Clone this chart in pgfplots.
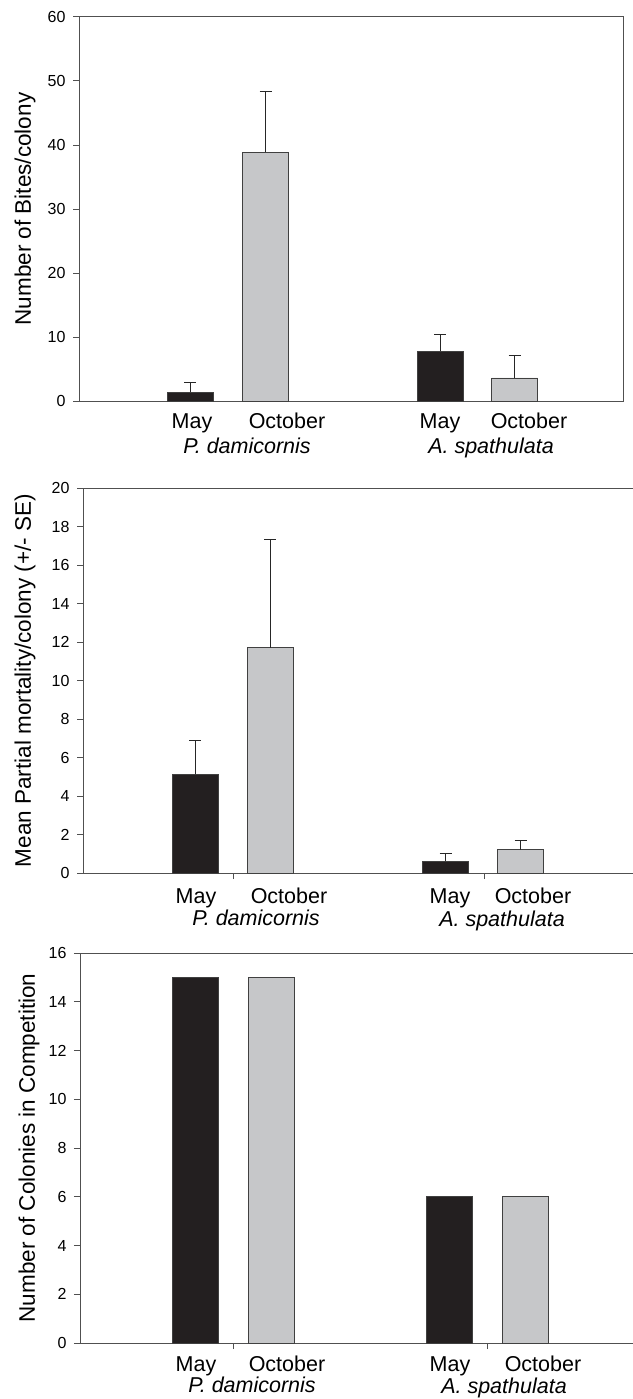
\documentclass[border=0pt]{standalone}
\usepackage{fontspec}
\setmainfont{Liberation Sans}
\usepackage{pgfplots}
\pgfplotsset{compat=1.18}

\definecolor{barblack}{HTML}{231F20}
\definecolor{bargray}{HTML}{C6C7C9}
\definecolor{axgray}{HTML}{505050}
\definecolor{edgegray}{HTML}{404040}

\pgfplotsset{
  myaxis/.style={
    scale only axis, anchor=north west, clip=false,
    ymin=0,
    axis line style={axgray, line width=1pt},
    every tick/.style={axgray, line width=1pt},
    major tick length=6pt, tick align=outside,
    ytick pos=left, xtick pos=bottom,
    /pgf/number format/assume math mode=true,
    yticklabel style={font=\fontsize{16}{19}\selectfont, xshift=-4pt},
    ybar, bar shift=0pt, bar width=46,
    error bars/y dir=plus, error bars/y explicit,
    error bars/error bar style={black!85, line width=1pt},
    error bars/error mark options={rotate=90, mark size=6pt, black!85, line width=1pt},
  },
  maybar/.style={fill=barblack, draw=edgegray, line width=0.8pt},
  octbar/.style={fill=bargray, draw=edgegray, line width=0.8pt},
}
\tikzset{
  lab/.style={font=\fontsize{21.5}{25}\selectfont, anchor=base},
  sp/.style={font=\fontsize{21.5}{25}\selectfont\itshape, anchor=base},
  yl/.style={font=\fontsize{22.5}{27}\selectfont, rotate=90, anchor=center},
}

\begin{document}
\begin{tikzpicture}
\useasboundingbox (0,0) rectangle (632pt,-1399pt);

% Panel 1
\begin{axis}[myaxis, at={(79pt,-17pt)}, width=544pt, height=384pt,
  xmin=0, xmax=544, ymax=60, ytick={0,10,...,60}, xtick=\empty]
\addplot[maybar] coordinates {(111,1.4) +- (0,1.5) (361,7.8) +- (0,2.65)};
\addplot[octbar] coordinates {(186.5,38.9) +- (0,9.4) (435.5,3.6) +- (0,3.45)};
\node[yl] at ([xshift=-54pt]rel axis cs:0,0.5) {Number of Bites/colony};
\node[lab] at ([yshift=-27pt]axis cs:113,0) {May};
\node[lab] at ([yshift=-27pt]axis cs:208,0) {October};
\node[sp] at ([yshift=-52pt]axis cs:168,0) {P. damicornis};
\node[lab] at ([yshift=-27pt]axis cs:361,0) {May};
\node[lab] at ([yshift=-27pt]axis cs:450,0) {October};
\node[sp] at ([yshift=-52pt]axis cs:412,0) {A. spathulata};
\end{axis}

% Panel 2
\begin{axis}[myaxis, at={(83pt,-488pt)}, width=551pt, height=385pt,
  xmin=0, xmax=551, ymax=20, ytick={0,2,...,20}, xtick={150,401}, xticklabels={}]
\addplot[maybar] coordinates {(112,5.12) +- (0,1.75) (362.5,0.62) +- (0,0.38)};
\addplot[octbar] coordinates {(187,11.71) +- (0,5.64) (437.5,1.21) +- (0,0.49)};
\node[yl] at ([xshift=-58pt]rel axis cs:0,0.5) {Mean Partial mortality/colony (+/- SE)};
\node[lab] at ([yshift=-30pt]axis cs:113,0) {May};
\node[lab] at ([yshift=-30pt]axis cs:206,0) {October};
\node[sp] at ([yshift=-52pt]axis cs:173,0) {P. damicornis};
\node[lab] at ([yshift=-30pt]axis cs:367,0) {May};
\node[lab] at ([yshift=-30pt]axis cs:450,0) {October};
\node[sp] at ([yshift=-53pt]axis cs:419,0) {A. spathulata};
\end{axis}

% Panel 3
\begin{axis}[myaxis, at={(80pt,-953pt)}, width=554pt, height=390pt,
  xmin=0, xmax=554, ymax=16, ytick={0,2,...,16}, xtick={153,407}, xticklabels={}]
\addplot[maybar, error bars/y dir=none] coordinates {(115,15) (369,6)};
\addplot[octbar, error bars/y dir=none] coordinates {(191,15) (445,6)};
\node[yl] at ([xshift=-51pt]rel axis cs:0,0.5) {Number of Colonies in Competition};
\node[lab] at ([yshift=-28pt]axis cs:116,0) {May};
\node[lab] at ([yshift=-28pt]axis cs:207,0) {October};
\node[sp] at ([yshift=-49pt]axis cs:172,0) {P. damicornis};
\node[lab] at ([yshift=-28pt]axis cs:370,0) {May};
\node[lab] at ([yshift=-28pt]axis cs:463,0) {October};
\node[sp] at ([yshift=-50pt]axis cs:424,0) {A. spathulata};
\end{axis}
\end{tikzpicture}
\end{document}
